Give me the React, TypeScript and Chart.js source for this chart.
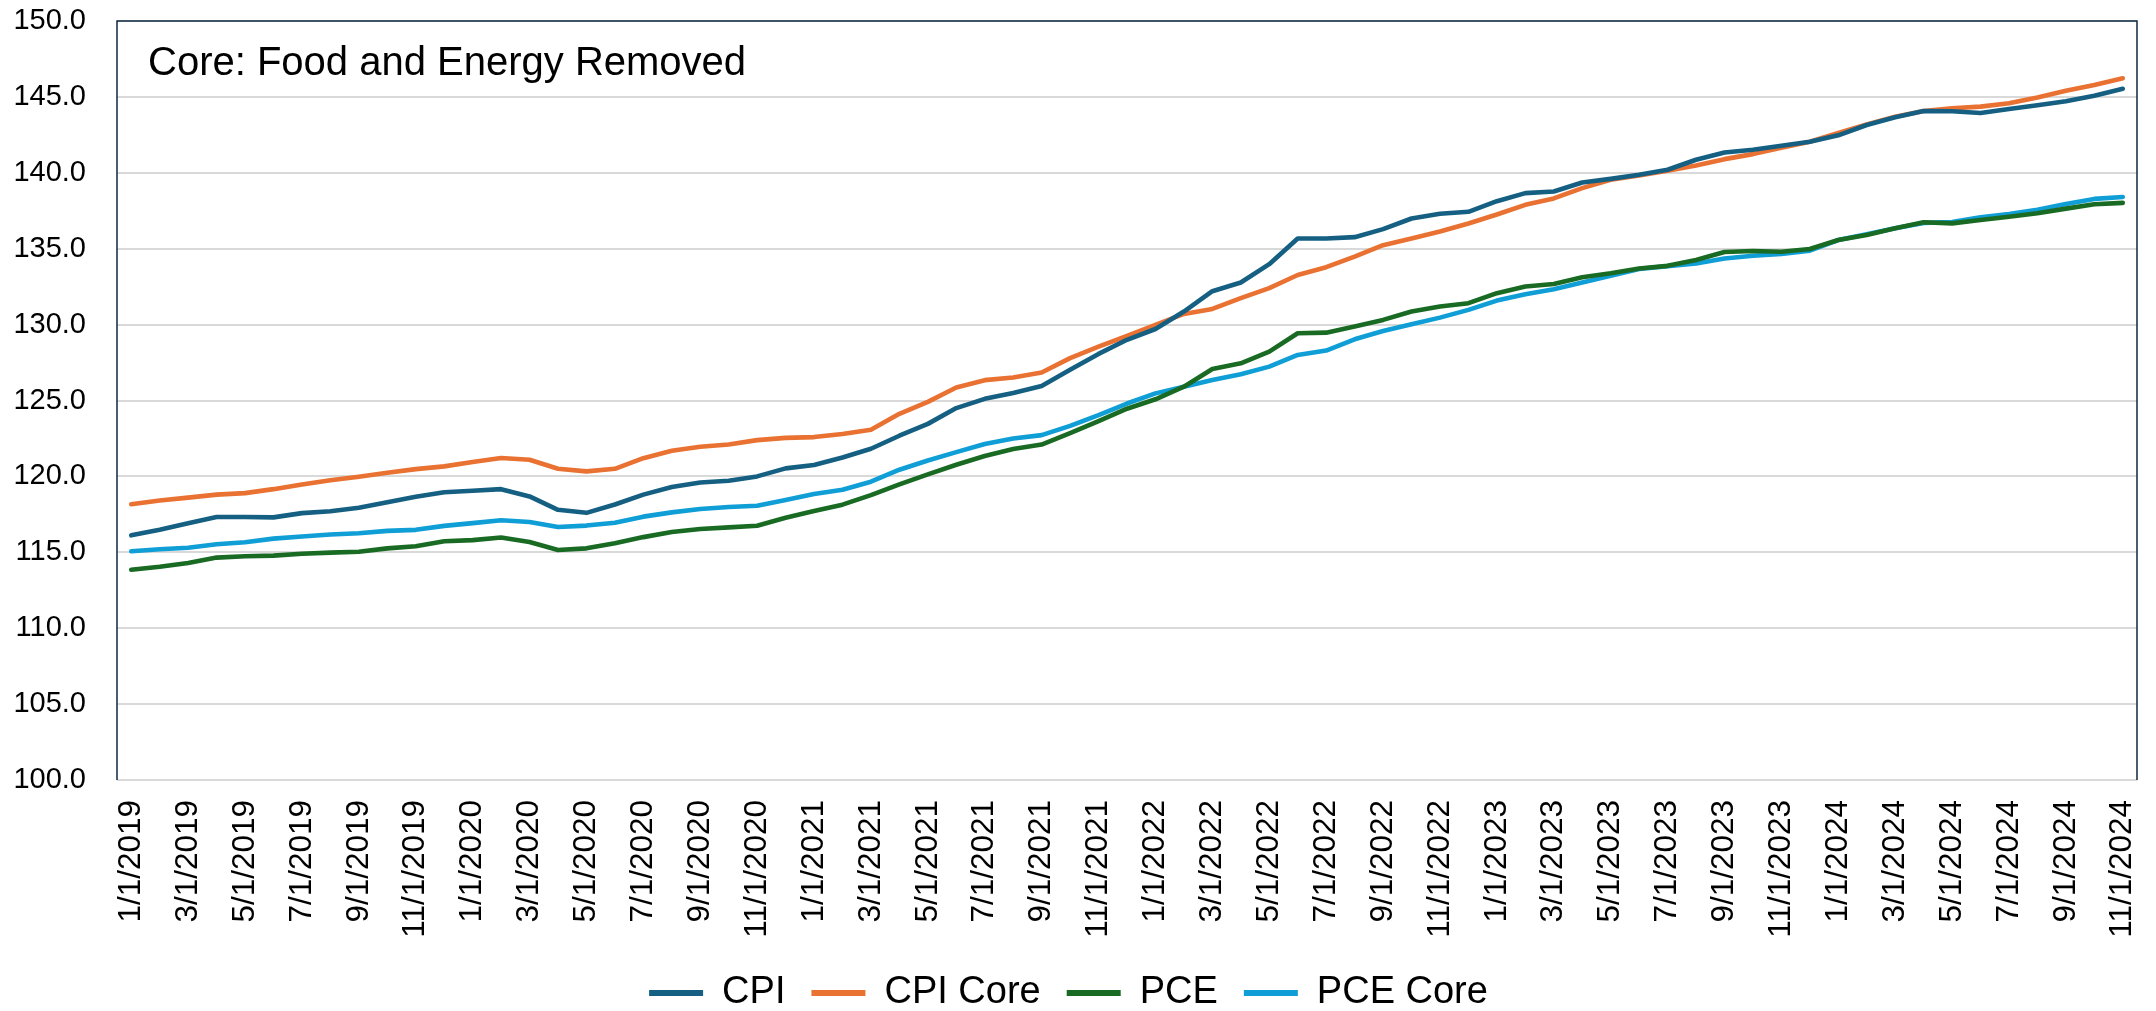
import React, { useEffect, useRef } from "react";
import { Chart, registerables } from "chart.js";

Chart.register(...registerables);

const categories = [
  "1/1/2019","2/1/2019","3/1/2019","4/1/2019","5/1/2019","6/1/2019","7/1/2019","8/1/2019","9/1/2019","10/1/2019","11/1/2019","12/1/2019",
  "1/1/2020","2/1/2020","3/1/2020","4/1/2020","5/1/2020","6/1/2020","7/1/2020","8/1/2020","9/1/2020","10/1/2020","11/1/2020","12/1/2020",
  "1/1/2021","2/1/2021","3/1/2021","4/1/2021","5/1/2021","6/1/2021","7/1/2021","8/1/2021","9/1/2021","10/1/2021","11/1/2021","12/1/2021",
  "1/1/2022","2/1/2022","3/1/2022","4/1/2022","5/1/2022","6/1/2022","7/1/2022","8/1/2022","9/1/2022","10/1/2022","11/1/2022","12/1/2022",
  "1/1/2023","2/1/2023","3/1/2023","4/1/2023","5/1/2023","6/1/2023","7/1/2023","8/1/2023","9/1/2023","10/1/2023","11/1/2023","12/1/2023",
  "1/1/2024","2/1/2024","3/1/2024","4/1/2024","5/1/2024","6/1/2024","7/1/2024","8/1/2024","9/1/2024","10/1/2024","11/1/2024",
];

const cpi = [
  116.12,116.48,116.92,117.33,117.33,117.30,117.58,117.70,117.93,118.30,118.66,118.96,
  119.05,119.16,118.68,117.80,117.60,118.15,118.80,119.30,119.60,119.71,120.00,120.53,
  120.75,121.25,121.82,122.68,123.46,124.50,125.11,125.50,125.96,127.02,128.07,129.00,
  129.71,130.86,132.20,132.77,133.98,135.67,135.67,135.76,136.29,136.99,137.30,137.43,
  138.13,138.66,138.77,139.36,139.60,139.87,140.20,140.86,141.34,141.52,141.78,142.05,
  142.47,143.15,143.66,144.07,144.05,143.94,144.20,144.45,144.71,145.07,145.53,
];

const cpiCore = [
  118.17,118.41,118.60,118.80,118.90,119.16,119.47,119.74,119.98,120.24,120.48,120.66,
  120.95,121.21,121.10,120.50,120.33,120.50,121.20,121.69,121.95,122.10,122.39,122.54,
  122.59,122.79,123.07,124.12,124.91,125.86,126.34,126.51,126.84,127.79,128.55,129.25,
  129.98,130.70,131.03,131.74,132.40,133.27,133.78,134.48,135.23,135.67,136.13,136.66,
  137.25,137.89,138.31,138.99,139.54,139.82,140.13,140.48,140.90,141.23,141.65,142.05,
  142.62,143.19,143.70,144.07,144.25,144.36,144.58,144.96,145.40,145.79,146.23,
];

const pce = [
  113.85,114.05,114.30,114.65,114.74,114.78,114.90,114.98,115.04,115.26,115.40,115.73,
  115.80,115.97,115.68,115.15,115.26,115.60,116.00,116.34,116.53,116.64,116.75,117.28,
  117.72,118.14,118.77,119.47,120.13,120.77,121.34,121.80,122.10,122.85,123.64,124.46,
  125.08,125.91,127.08,127.45,128.22,129.43,129.47,129.87,130.31,130.86,131.19,131.41,
  132.07,132.51,132.68,133.12,133.38,133.70,133.87,134.25,134.78,134.85,134.80,134.98,
  135.57,135.90,136.34,136.74,136.67,136.89,137.11,137.33,137.64,137.93,138.02,
];

const pceCore = [
  115.07,115.20,115.30,115.53,115.66,115.90,116.04,116.17,116.26,116.41,116.48,116.74,
  116.92,117.11,117.00,116.67,116.76,116.95,117.35,117.63,117.85,117.98,118.07,118.44,
  118.84,119.12,119.65,120.44,121.05,121.60,122.13,122.50,122.72,123.33,124.04,124.80,
  125.47,125.91,126.35,126.73,127.23,128.00,128.29,129.03,129.58,130.02,130.46,130.97,
  131.58,132.00,132.33,132.77,133.21,133.66,133.85,134.03,134.36,134.54,134.65,134.87,
  135.57,135.95,136.34,136.70,136.76,137.07,137.29,137.56,137.95,138.28,138.41,
];

const seriesNames = ["CPI", "CPI Core", "PCE", "PCE Core"];
const seriesColors = ["#156082", "#E97132", "#196B24", "#0F9ED5"];
const titleText = "Core: Food and Energy Removed";
const yTickMin = 100;
const yTickMax = 150;
const yTickStep = 5;

const FONT = "'Liberation Sans', Arial, sans-serif";
const PAD_BOTTOM = -11;
const AREA_BOTTOM = 780;

const framePlugin = {
  id: "frame",
  beforeDatasetsDraw(chart: any) {
    const { ctx, chartArea } = chart;
    const { left, top, right, bottom } = chartArea;
    ctx.save();
    ctx.strokeStyle = "#0E2841";
    ctx.lineWidth = 1.5;
    ctx.beginPath();
    ctx.moveTo(left, bottom);
    ctx.lineTo(left, top);
    ctx.lineTo(right, top);
    ctx.lineTo(right, bottom);
    ctx.stroke();
    ctx.restore();
  },
  afterDatasetsDraw(chart: any) {
    const { ctx, chartArea } = chart;
    ctx.save();
    ctx.fillStyle = "#000000";
    ctx.font = `40px ${FONT}`;
    ctx.textAlign = "left";
    ctx.textBaseline = "alphabetic";
    ctx.fillText(titleText, chartArea.left + 31, chartArea.top + 54);
    ctx.restore();
  },
};

export default function App() {
  const canvasRef = useRef<HTMLCanvasElement | null>(null);

  useEffect(() => {
    if (!canvasRef.current) return;
    const data = [cpi, cpiCore, pce, pceCore];
    const chart = new Chart(canvasRef.current, {
      type: "line",
      data: {
        labels: categories,
        datasets: seriesNames.map((name, i) => ({
          label: name,
          data: data[i],
          borderColor: seriesColors[i],
          backgroundColor: seriesColors[i],
          borderWidth: 4.6,
          borderCapStyle: "round" as const,
          borderJoinStyle: "round" as const,
          pointRadius: 0,
          pointHoverRadius: 0,
          tension: 0,
          fill: false,
        })),
      },
      options: {
        animation: false,
        responsive: true,
        maintainAspectRatio: false,
        layout: { padding: { top: 21, right: 19, left: 0, bottom: PAD_BOTTOM } },
        scales: {
          x: {
            offset: true,
            grid: { display: false, drawTicks: false },
            border: { display: false },
            ticks: {
              autoSkip: false,
              maxRotation: 90,
              minRotation: 90,
              padding: 20,
              color: "#000000",
              font: { family: FONT, size: 31.5 },
              callback: (_v: any, idx: number) => (idx % 2 === 0 ? categories[idx] : ""),
            },
            afterFit: (s: any) => {
              s.paddingLeft = 0;
              s.paddingRight = 0;
              const legendH = s.chart.legend ? s.chart.legend.height : 80;
              s.height = s.chart.height - PAD_BOTTOM - legendH - AREA_BOTTOM;
            },
          },
          y: {
            min: yTickMin,
            max: yTickMax,
            grid: { color: "#D9D9D9", lineWidth: 2, drawTicks: false },
            border: { display: false },
            ticks: {
              stepSize: yTickStep,
              padding: 31,
              color: "#000000",
              font: { family: FONT, size: 29 },
              callback: (v: any) => Number(v).toFixed(1),
            },
            afterFit: (s: any) => {
              s.width = 117;
              s.paddingTop = 0;
              s.paddingBottom = 0;
            },
          },
        },
        plugins: {
          legend: {
            position: "bottom",
            labels: {
              color: "#000000",
              font: { family: FONT, size: 38 },
              boxWidth: 54,
              boxHeight: 6,
              padding: 26,
              generateLabels: (c: any) =>
                Chart.defaults.plugins.legend.labels.generateLabels(c).map((it: any) => ({
                  ...it,
                  lineWidth: 0,
                  fillStyle: it.strokeStyle,
                })),
            },
          },
          tooltip: { enabled: false },
        },
      },
      plugins: [framePlugin],
    });
    return () => chart.destroy();
  }, []);

  return (
    <div style={{ position: "fixed", left: 0, top: 0, width: 2156, height: 1011, background: "#ffffff" }}>
      <canvas ref={canvasRef} />
    </div>
  );
}
